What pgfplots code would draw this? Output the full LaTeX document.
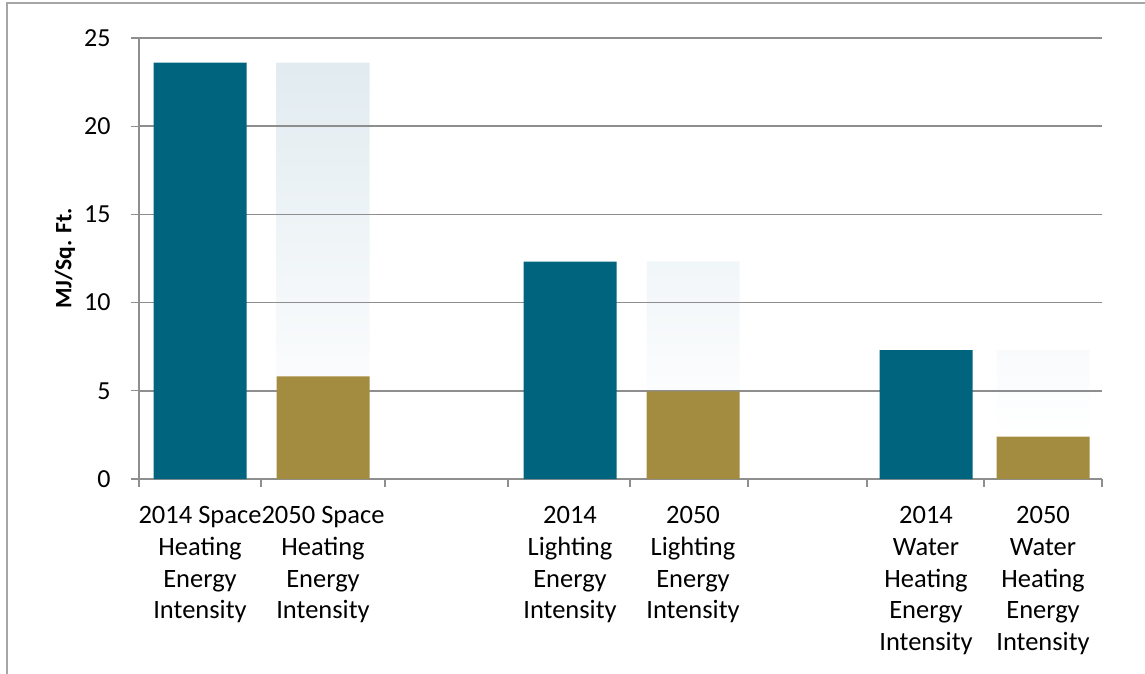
\documentclass[border=0pt]{standalone}
\usepackage{pgfplots}
\pgfplotsset{compat=1.18}
\usepackage{pgfplotstable}
\usepackage{fontspec}
\setmainfont{Carlito}

\definecolor{barblue}{HTML}{00647F}
\definecolor{bargold}{HTML}{A38B3F}
\definecolor{ghost}{HTML}{E1EBF0}
\definecolor{gridgray}{HTML}{8E8E8E}
\definecolor{framegray}{HTML}{A6A6A6}

% x = bar centre on the category axis, y = MJ per sq. ft.
% 2014 values
\pgfplotstableread{
x y
200 23.6
570 12.33
926 7.31
}\current
% 2050 values
\pgfplotstableread{
x y
323 5.82
693 4.97
1043 2.40
}\future
% reduction (2014 minus 2050), drawn as faded bar above the 2050 bar
\pgfplotstableread{
x y
323 17.78
693 7.36
1043 4.91
}\reduction

\pgfplotsset{
  base/.style={
    scale only axis, width=963pt, height=441pt,
    at={(139pt,194pt)}, anchor=south west,
    xmin=139, xmax=1102, ymin=0, ymax=25,
    bar width=93,
  }
}

\begin{document}
\begin{tikzpicture}[x=1pt,y=1pt]
\useasboundingbox (0,0) rectangle (1145,673);
\draw[framegray, line width=1.5pt] (7,-5) -- (7,670) -- (1150,670);

% faded bars behind the grid
\begin{axis}[base, ybar stacked, axis lines=none, ticks=none]
\addplot[draw=none, fill=none] table {\future};
\addplot[draw=none, top color=ghost, bottom color=white] table {\reduction};
\end{axis}

\begin{axis}[base, ybar, bar shift=0pt,
  axis lines*=left,
  axis line style={gridgray, line width=1.3pt},
  ymajorgrids, grid style={gridgray, line width=1.6pt},
  ytick={0,5,...,25},
  tick align=outside,
  major tick length=8pt, minor tick length=8pt,
  ytick style={gridgray, line width=1.3pt},
  major x tick style={draw=none},
  minor x tick style={gridgray, line width=1.3pt},
  xtick={200,323,570,693,926,1043},
  minor xtick={139,261,385,508,630,748,867,984,1102},
  xticklabels={{2014 Space\\Heating\\Energy\\Intensity},
               {2050 Space\\Heating\\Energy\\Intensity},
               {2014\\Lighting\\Energy\\Intensity},
               {2050\\Lighting\\Energy\\Intensity},
               {2014\\Water\\Heating\\Energy\\Intensity},
               {2050\\Water\\Heating\\Energy\\Intensity}},
  xticklabel style={align=center, font=\fontsize{26.5}{31.7}\selectfont, yshift=-16pt},
  yticklabel style={font=\fontsize{26}{30}\selectfont, xshift=-17pt},
  /pgf/number format/assume math mode=true,
  ylabel={MJ/Sq. Ft.},
  ylabel style={font=\fontsize{23.5}{28}\selectfont\bfseries, at={(axis description cs:-0.077,0.5)}, anchor=center},
]
\addplot[draw=none, fill=barblue] table {\current};
\addplot[draw=none, fill=bargold] table {\future};
\end{axis}
\end{tikzpicture}
\end{document}
